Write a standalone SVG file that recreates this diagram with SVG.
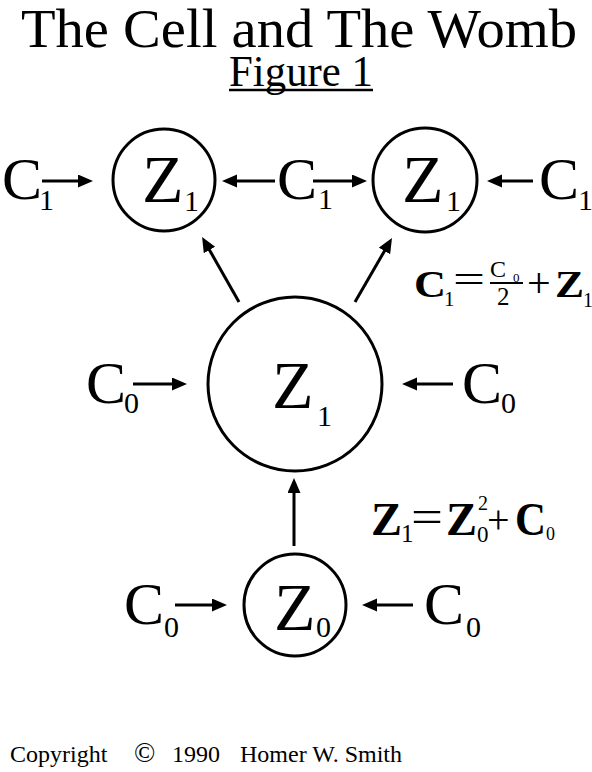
<svg xmlns="http://www.w3.org/2000/svg" width="592" height="772" viewBox="0 0 592 772" font-family="'Liberation Serif', 'Times New Roman', serif">
<style>
text{font-family:"Liberation Serif","Times New Roman",serif;fill:#000}
.c{font-size:60px}
.z{font-size:68px}
.s{font-size:30px}
.b{font-weight:bold}
.node{fill:none;stroke:#000;stroke-width:3}
.arr{stroke:#000;stroke-width:3;fill:none;marker-end:url(#ah)}
</style>
<defs>
<marker id="ah" markerUnits="userSpaceOnUse" markerWidth="16" markerHeight="14" refX="4" refY="6.5" orient="auto">
<path d="M0,0 L15,6.5 L0,13 z" fill="#000"/>
</marker>
</defs>
<rect width="592" height="772" fill="#fff"/>
<g id="title">
<text x="299" y="47" font-size="55" text-anchor="middle" textLength="556" lengthAdjust="spacingAndGlyphs">The Cell and The Womb</text>
<text x="229" y="86" font-size="44" textLength="144" lengthAdjust="spacingAndGlyphs">Figure 1</text>
<line x1="229" y1="90" x2="373" y2="90" stroke="#000" stroke-width="2.5"/>
</g>
<g id="connectors">
<line class="arr" x1="42" y1="181" x2="82" y2="181"/>
<line class="arr" x1="275" y1="181" x2="233" y2="181"/>
<line class="arr" x1="313" y1="181" x2="356" y2="181"/>
<line class="arr" x1="533" y1="181" x2="498" y2="181"/>
<line class="arr" x1="239" y1="302" x2="207.5" y2="246.5"/>
<line class="arr" x1="355" y1="302" x2="386.5" y2="247.5"/>
<line class="arr" x1="133" y1="384" x2="176" y2="384"/>
<line class="arr" x1="453" y1="384" x2="413" y2="384"/>
<line class="arr" x1="294" y1="546" x2="294" y2="489"/>
<line class="arr" x1="175" y1="605" x2="216" y2="605"/>
<line class="arr" x1="413" y1="605" x2="373" y2="605"/>
</g>
<g id="z1-left">
<circle class="node" cx="164" cy="180" r="51"/>
<text class="z" x="142" y="202">Z</text><text class="s" x="184" y="211">1</text>
</g>
<g id="z1-right">
<circle class="node" cx="425" cy="180" r="52"/>
<text class="z" x="402" y="202">Z</text><text class="s" x="446" y="211">1</text>
</g>
<g id="z1-big">
<circle class="node" cx="295" cy="384" r="87"/>
<text class="z" x="272" y="408">Z</text><text class="s" x="317" y="426">1</text>
</g>
<g id="z0">
<circle class="node" cx="295" cy="605" r="51"/>
<text class="z" x="274" y="630">Z</text><text class="s" x="316" y="637">0</text>
</g>
<g id="c1-left"><text class="c" x="2" y="199">C</text><text class="s" x="39" y="210">1</text></g>
<g id="c1-mid"><text class="c" x="277" y="199">C</text><text class="s" x="318" y="209">1</text></g>
<g id="c1-right"><text class="c" x="539" y="199">C</text><text class="s" x="578" y="210">1</text></g>
<g id="c0-mid-left"><text class="c" x="86" y="403">C</text><text class="s" x="124" y="413">0</text></g>
<g id="c0-mid-right"><text class="c" x="462" y="403">C</text><text class="s" x="501" y="413">0</text></g>
<g id="c0-bot-left"><text class="c" x="124" y="624">C</text><text class="s" x="164" y="637">0</text></g>
<g id="c0-bot-right"><text class="c" x="424" y="624">C</text><text class="s" x="466" y="637">0</text></g>
<g id="formula-c1">
<text class="b" x="414" y="297" font-size="38" textLength="32" lengthAdjust="spacingAndGlyphs">C</text>
<text x="444" y="306" font-size="21">1</text>
<text x="453" y="293" font-size="40" textLength="32" lengthAdjust="spacingAndGlyphs">=</text>
<text x="490" y="277" font-size="24">C</text>
<text x="513" y="282" font-size="13">0</text>
<line x1="490" y1="283" x2="523" y2="283" stroke="#000" stroke-width="2"/>
<text x="497" y="305" font-size="25">2</text>
<text x="527" y="297" font-size="42">+</text>
<text class="b" x="555" y="297" font-size="38" textLength="29" lengthAdjust="spacingAndGlyphs">Z</text>
<text x="583" y="307" font-size="20">1</text>
</g>
<g id="formula-z1">
<text class="b" x="371" y="535" font-size="46" textLength="31" lengthAdjust="spacingAndGlyphs">Z</text>
<text x="401" y="542" font-size="25">1</text>
<text x="411" y="532" font-size="46" textLength="32" lengthAdjust="spacingAndGlyphs">=</text>
<text class="b" x="446" y="535" font-size="46" textLength="31" lengthAdjust="spacingAndGlyphs">Z</text>
<text x="478" y="510" font-size="20">2</text>
<text x="477" y="542" font-size="23">0</text>
<text x="487" y="533" font-size="40">+</text>
<text class="b" x="515" y="535" font-size="46" textLength="31" lengthAdjust="spacingAndGlyphs">C</text>
<text x="546" y="540" font-size="18">0</text>
</g>
<g id="copyright">
<text y="762" font-size="24"><tspan x="10">Copyright</tspan><tspan x="134" font-size="28">©</tspan><tspan x="172">1990</tspan><tspan x="240">Homer W. Smith</tspan></text>
</g>
</svg>
